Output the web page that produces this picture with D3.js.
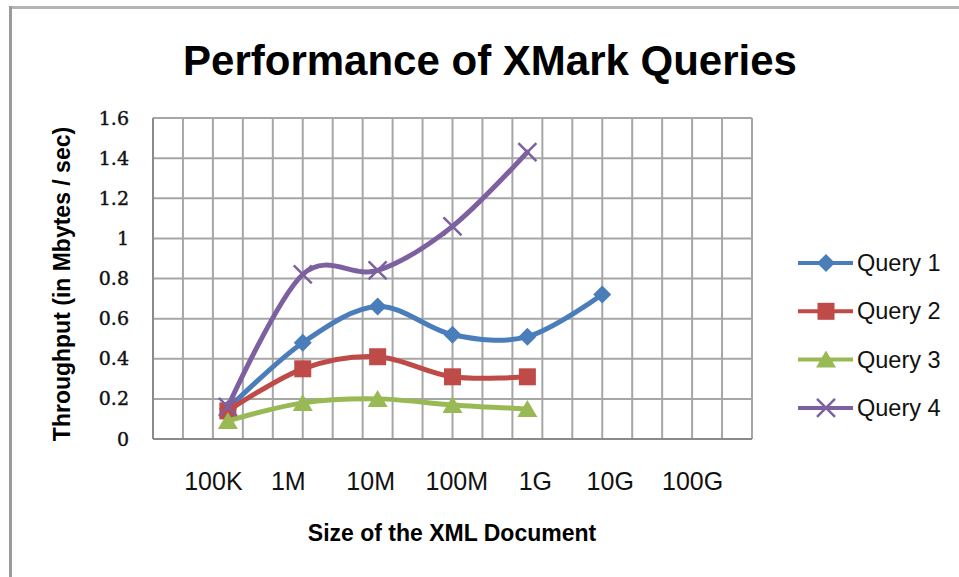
<!DOCTYPE html>
<html lang="en">
<head>
<meta charset="UTF-8">
<title>Performance of XMark Queries</title>
<script src="https://d3js.org/d3.v7.min.js"></script>
<style>
  body { margin: 0; background: #fff; }
  svg { display: block; font-family: "Liberation Sans", Arial, sans-serif; }
  .grid line { stroke: #a6a6a6; stroke-width: 2; }
</style>
</head>
<body>
<svg id="chart" width="959" height="577"></svg>
<script>
// categories and where their labels sit along the x axis (axis units)
const sizes = ['100K', '1M', '10M', '100M', '1G', '10G', '100G'];
const sizeLabelAt = [0.8, 1.8, 2.9, 4.05, 5.1, 6.1, 7.2];
// throughput values (Mbytes / sec), one per size, starting at 100K
const query1 = [0.15, 0.48, 0.66, 0.52, 0.51, 0.72];
const query2 = [0.14, 0.35, 0.41, 0.31, 0.31];
const query3 = [0.09, 0.18, 0.20, 0.17, 0.15];
const query4 = [0.16, 0.82, 0.84, 1.06, 1.43];
const seriesNames = ['Query 1', 'Query 2', 'Query 3', 'Query 4'];
const yTicks = [0, 0.2, 0.4, 0.6, 0.8, 1, 1.2, 1.4, 1.6];

const colors = ['#4a7ebb', '#be4b48', '#98b954', '#7d60a0'];
const shapes = ['diamond', 'square', 'triangle', 'cross'];
const series = [query1, query2, query3, query4].map((vals, i) => ({
  name: seriesNames[i], color: colors[i], shape: shapes[i],
  points: vals.map((v, j) => ({ x: j + 1, y: v }))
}));

const svg = d3.select('#chart');
const plotL = 153, plotR = 752, plotT = 118, plotB = 439;

const x = d3.scaleLinear().domain([0, 8]).range([plotL, plotR]);
const y = d3.scaleLinear().domain([0, 1.6]).range([plotB, plotT]);

// picture frame (top and left edges only)
svg.append('rect').attr('x', 9).attr('y', 6).attr('width', 950).attr('height', 3).attr('fill', '#b4b4b4');
svg.append('rect').attr('x', 9).attr('y', 6).attr('width', 3).attr('height', 571).attr('fill', '#9a9a9a');

// title
svg.append('text')
  .attr('x', 490).attr('y', 75)
  .attr('text-anchor', 'middle')
  .style('font-size', '42px').style('font-weight', 'bold')
  .text('Performance of XMark Queries');

// grid
const grid = svg.append('g').attr('class', 'grid');
grid.selectAll('line.v')
  .data(d3.range(0, 8.001, 0.4))
  .join('line').attr('class', 'v')
  .attr('x1', d => x(d)).attr('x2', d => x(d))
  .attr('y1', plotT).attr('y2', plotB);
grid.selectAll('line.h')
  .data(yTicks)
  .join('line').attr('class', 'h')
  .attr('x1', plotL).attr('x2', plotR)
  .attr('y1', d => y(d)).attr('y2', d => y(d));

// axes lines
svg.append('line').attr('x1', plotL).attr('x2', plotR).attr('y1', plotB).attr('y2', plotB)
  .attr('stroke', '#8a8a8a').attr('stroke-width', 2);
svg.append('line').attr('x1', plotL).attr('x2', plotL).attr('y1', plotT).attr('y2', plotB)
  .attr('stroke', '#8a8a8a').attr('stroke-width', 2);

// y tick labels
const yAxis = svg.append('g')
  .attr('transform', `translate(${plotL - 24},0)`)
  .call(d3.axisLeft(y).tickValues(yTicks).tickSize(0).tickFormat(d3.format('')));
yAxis.select('.domain').remove();
yAxis.selectAll('text')
  .attr('x', 0)
  .style('font-family', '"DejaVu Serif", serif')
  .style('font-size', '19px').attr('fill', '#111')
  .attr('stroke', '#111').attr('stroke-width', 0.4);

// x category labels
const xAxis = svg.append('g')
  .attr('transform', `translate(0,${plotB + 30})`)
  .call(d3.axisBottom(x).tickValues(sizeLabelAt).tickSize(0).tickFormat((d, i) => sizes[i]));
xAxis.select('.domain').remove();
xAxis.selectAll('text')
  .style('font-family', '"Liberation Sans", Arial, sans-serif')
  .style('font-size', '25px').attr('fill', '#111');

// axis titles
svg.append('text')
  .attr('x', 452).attr('y', 541)
  .attr('text-anchor', 'middle')
  .style('font-size', '23px').style('font-weight', 'bold')
  .text('Size of the XML Document');
svg.append('text')
  .attr('transform', 'translate(70,284) rotate(-90)')
  .attr('text-anchor', 'middle')
  .style('font-size', '23px').style('font-weight', 'bold')
  .text('Throughput (in Mbytes / sec)');

// markers
function drawMarker(g, shape, color) {
  if (shape === 'diamond') {
    g.append('path').attr('d', 'M0,-9L9,0L0,9L-9,0Z').attr('fill', color);
  } else if (shape === 'square') {
    g.append('rect').attr('x', -8.5).attr('y', -8.5).attr('width', 17).attr('height', 17).attr('fill', color);
  } else if (shape === 'triangle') {
    g.append('path').attr('d', 'M0,-9L10,8L-10,8Z').attr('fill', color);
  } else {
    g.append('path').attr('d', 'M-9,-9L9,9M-9,9L9,-9')
      .attr('stroke', color).attr('stroke-width', 2.5).attr('fill', 'none');
  }
}

const line = d3.line()
  .x(d => x(d.x)).y(d => y(d.y))
  .curve(d3.curveCardinal.tension(0));

series.forEach(s => {
  const g = svg.append('g');
  g.append('path')
    .attr('d', line(s.points))
    .attr('fill', 'none')
    .attr('stroke', s.color)
    .attr('stroke-width', 5)
    .attr('stroke-linecap', 'round');
  g.selectAll('g.m')
    .data(s.points)
    .join('g').attr('class', 'm')
    .attr('transform', d => `translate(${x(d.x)},${y(d.y)})`)
    .each(function () { drawMarker(d3.select(this), s.shape, s.color); });
});

// legend
const legend = svg.append('g').attr('transform', 'translate(798,263)');
series.forEach((s, i) => {
  const row = legend.append('g').attr('transform', `translate(0,${i * 48.3})`);
  row.append('line').attr('x1', 0).attr('x2', 55).attr('y1', 0).attr('y2', 0)
    .attr('stroke', s.color).attr('stroke-width', 4);
  drawMarker(row.append('g').attr('transform', 'translate(28,0)'), s.shape, s.color);
  row.append('text')
    .attr('x', 59).attr('y', 8)
    .style('font-size', '23.5px').attr('fill', '#111')
    .text(s.name);
});
</script>
</body>
</html>
